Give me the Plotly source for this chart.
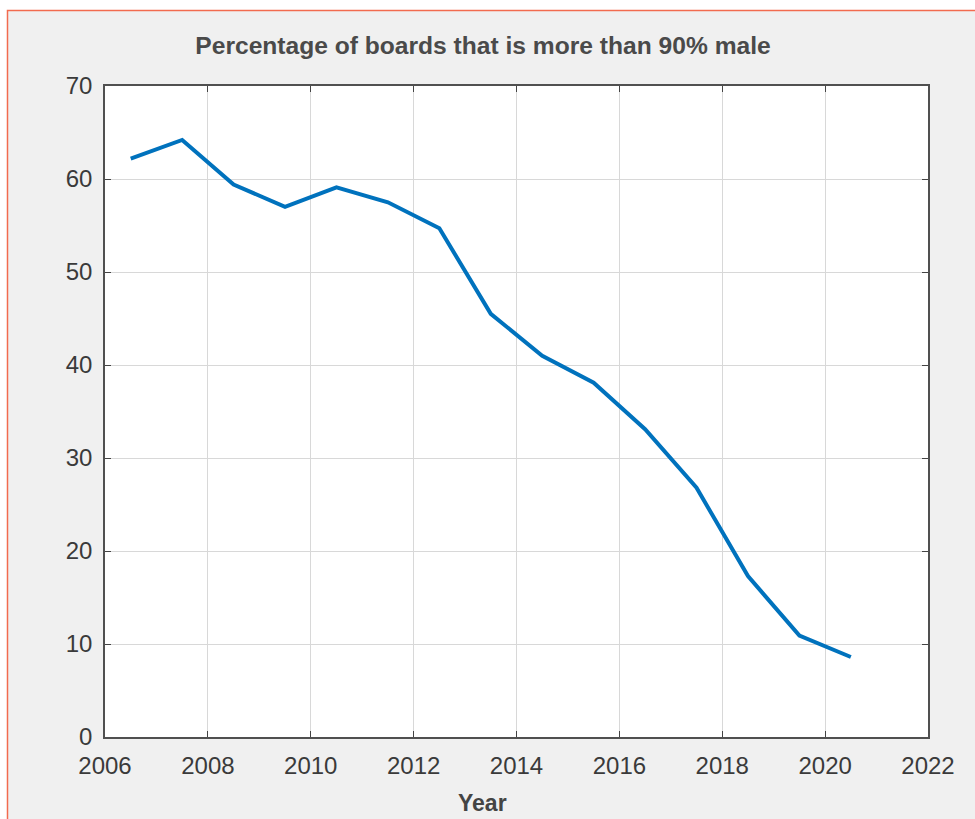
import plotly.graph_objects as go

years = [2006.5, 2007.5, 2008.5, 2009.5, 2010.5, 2011.5, 2012.5, 2013.5,
         2014.5, 2015.5, 2016.5, 2017.5, 2018.5, 2019.5, 2020.5]
pct_male90 = [62.2, 64.2, 59.4, 57.0, 59.1, 57.5, 54.7, 45.5,
              41.0, 38.1, 33.1, 26.8, 17.3, 10.9, 8.6]
x_ticks = [2006, 2008, 2010, 2012, 2014, 2016, 2018, 2020, 2022]
y_ticks = [0, 10, 20, 30, 40, 50, 60, 70]

W, H = 975, 819
L, R, T, B = 105, 928, 86, 737
pw, ph = R - L, B - T
FONT = "Liberation Sans, Arial, sans-serif"


def px_x(p):
    return (p - L) / pw


def px_y(p):
    return (B - p) / ph


fig = go.Figure()
fig.add_trace(go.Scatter(x=years, y=pct_male90, mode="lines",
                         line=dict(color="#0072BD", width=4),
                         showlegend=False, hoverinfo="x+y"))

axis_common = dict(showline=True, linecolor="#505050", linewidth=1.5, mirror="ticks",
                   ticks="inside", ticklen=6, tickwidth=1.2, tickcolor="#444444",
                   showgrid=True, gridcolor="#d8d8d8", gridwidth=1, zeroline=False,
                   tickfont=dict(family=FONT, size=24, color="#3a3a3a"))

fig.update_xaxes(range=[2006, 2022], tickvals=x_ticks, ticktext=[str(v) for v in x_ticks],
                 ticklabelstandoff=6, **axis_common)
fig.update_yaxes(range=[0, 70], tickvals=y_ticks, ticktext=[str(v) for v in y_ticks],
                 ticklabelstandoff=6, **axis_common)

shapes = [
    # white strips outside the orange frame
    dict(type="rect", xref="paper", yref="paper", x0=px_x(-20), x1=px_x(7), y0=px_y(H + 50), y1=px_y(-20),
         fillcolor="white", line=dict(width=0), layer="below"),
    dict(type="rect", xref="paper", yref="paper", x0=px_x(-20), x1=px_x(W + 20), y0=px_y(10), y1=px_y(-20),
         fillcolor="white", line=dict(width=0), layer="below"),
    # orange border
    dict(type="rect", xref="paper", yref="paper", x0=px_x(7.5), x1=px_x(W + 20), y0=px_y(H + 20), y1=px_y(10.5),
         fillcolor="rgba(0,0,0,0)", line=dict(color="#f26b4f", width=1.5), layer="above"),
]

annotations = [
    dict(text="<b>Year</b>", xref="paper", yref="paper", x=px_x(482), y=px_y(803),
         xanchor="center", yanchor="middle", showarrow=False,
         font=dict(family=FONT, size=23, color="#444444")),
]

fig.update_layout(
    width=W, height=H,
    margin=dict(l=L, r=W - R, t=T, b=H - B, autoexpand=False),
    paper_bgcolor="#f0f0f0", plot_bgcolor="white",
    title=dict(text="<b>Percentage of boards that is more than 90% male</b>",
               x=483 / W, xanchor="center", y=1 - 45 / H, yanchor="middle",
               font=dict(family=FONT, size=24.6, color="#4a4a4a")),
    shapes=shapes,
    annotations=annotations,
)

fig.write_html("out.html", config={"displayModeBar": False},
               post_script="document.body.style.margin='0';document.body.style.overflow='hidden';")
